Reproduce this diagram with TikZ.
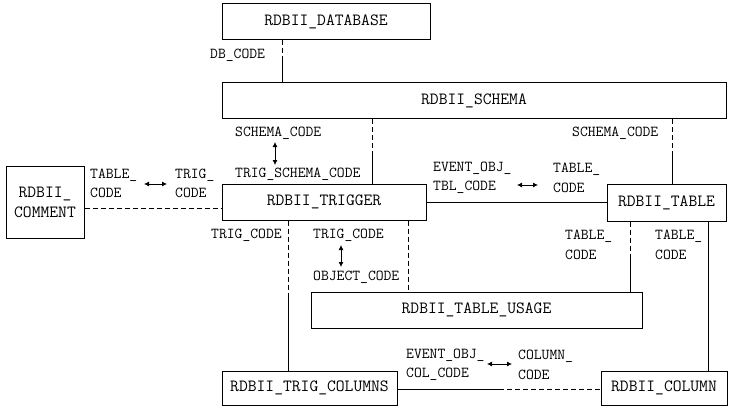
\documentclass[tikz,border=0pt]{standalone}
\usepackage{fontspec}
\usetikzlibrary{arrows.meta}
\newcommand{\tblfont}{\ttfamily\fontsize{17.1}{20}\selectfont}
\newcommand{\keyfont}{\ttfamily\fontsize{15.2}{19.5}\selectfont}
\tikzset{
  rdbtable/.style={draw, line width=1pt, inner sep=0pt, font=\tblfont, align=center},
  keylabel/.style={anchor=west, inner sep=0pt, align=left, font=\keyfont},
  link/.style={line width=1pt},
  optlink/.style={line width=1pt, dash pattern=on 5pt off 3pt},
  keyarrow/.style={line width=0.8pt, {Latex[length=5pt,width=5pt]}-{Latex[length=5pt,width=5pt]}},
}
\begin{document}
\begin{tikzpicture}
% one unit = one pixel of the drawing
\def\px{1pt}
\begin{scope}[x=\px, y=-\px, line cap=butt]
  \useasboundingbox (0,0) rectangle (730,409);
  % Tables
  \node[rdbtable, minimum width=208, minimum height=36] (database) at (326,22) {RDBII\_DATABASE};
  \node[rdbtable, minimum width=504, minimum height=36] (schema) at (474,100.5) {RDBII\_SCHEMA};
  \node[rdbtable, minimum width=78, minimum height=72] (comment) at (45,202) {RDBII\_\\COMMENT};
  \node[rdbtable, minimum width=204, minimum height=36] (trigger) at (324,202) {RDBII\_TRIGGER};
  \node[rdbtable, minimum width=119, minimum height=37] (table) at (666.5,202.5) {RDBII\_TABLE};
  \node[rdbtable, minimum width=331, minimum height=36] (usage) at (476.5,310) {RDBII\_TABLE\_USAGE};
  \node[rdbtable, minimum width=175, minimum height=34] (trigcols) at (309.5,388) {RDBII\_TRIG\_COLUMNS};
  \node[rdbtable, minimum width=126, minimum height=34] (column) at (664,388) {RDBII\_COLUMN};
  % Break points of the links
  \coordinate (dbbrk) at (282,61);
  \coordinate (trgbrk) at (372,151.5);
  \coordinate (tblbrk) at (672,151.5);
  \coordinate (cmtlink) at (84,208);
  \coordinate (ttlink) at (426,202);
  \coordinate (tcbrk) at (288,295);
  \coordinate (tulink) at (408,220);
  \coordinate (ubrk) at (630,256.5);
  \coordinate (clink) at (708,221);
  \coordinate (colbrk) at (499,389);
  % Links
  \draw[optlink] (dbbrk |- database.south) -- (dbbrk);
  \draw[link] (dbbrk) -- (dbbrk |- schema.north);
  \draw[optlink] (trgbrk |- schema.south) -- (trgbrk);
  \draw[link] (trgbrk) -- (trgbrk |- trigger.north);
  \draw[optlink] (tblbrk |- schema.south) -- (tblbrk);
  \draw[link] (tblbrk) -- (tblbrk |- table.north);
  \draw[optlink] (cmtlink -| comment.east) -- (cmtlink -| trigger.west);
  \draw[link] (ttlink -| trigger.east) -- (ttlink -| table.west);
  \draw[optlink] (tcbrk |- trigger.south) -- (tcbrk);
  \draw[link] (tcbrk) -- (tcbrk |- trigcols.north);
  \draw[optlink] (tulink |- trigger.south) -- (tulink |- usage.north);
  \draw[optlink] (ubrk |- table.south) -- (ubrk);
  \draw[link] (ubrk) -- (ubrk |- usage.north);
  \draw[link] (clink |- table.south) -- (clink |- column.north);
  \draw[link] (colbrk -| trigcols.east) -- (colbrk);
  \draw[optlink] (colbrk) -- (colbrk -| column.west);
  % Key names
  \node[keylabel] (dbcode) at (210,55) {DB\_CODE};
  \node[keylabel] (schemacode) at (235,133) {SCHEMA\_CODE};
  \node[keylabel] (trigschemacode) at (235,174) {TRIG\_SCHEMA\_CODE};
  \node[keylabel] (cmttablecode) at (90,183.5) {TABLE\_\\CODE};
  \node[keylabel] (cmttrigcode) at (175,183.5) {TRIG\_\\CODE};
  \node[keylabel] (evtblcode) at (433,178) {EVENT\_OBJ\_\\TBL\_CODE};
  \node[keylabel] (tbltablecode) at (553,178) {TABLE\_\\CODE};
  \node[keylabel] (tblschemacode) at (572,133) {SCHEMA\_CODE};
  \node[keylabel] (usetablecode) at (565,245) {TABLE\_\\CODE};
  \node[keylabel] (coltablecode) at (655,245) {TABLE\_\\CODE};
  \node[keylabel] (tctrigcode) at (211,235) {TRIG\_CODE};
  \node[keylabel] (usetrigcode) at (313,235) {TRIG\_CODE};
  \node[keylabel] (objectcode) at (313,277) {OBJECT\_CODE};
  \node[keylabel] (evcolcode) at (406,365) {EVENT\_OBJ\_\\COL\_CODE};
  \node[keylabel] (columncode) at (518,365) {COLUMN\_\\CODE};
  % Key arrows
  \coordinate (sca) at (275,142);
  \coordinate (scb) at (275,165);
  \coordinate (cma) at (144,184);
  \coordinate (cmb) at (167,184);
  \coordinate (tba) at (517,185);
  \coordinate (tbb) at (538,185);
  \coordinate (oba) at (341,245);
  \coordinate (obb) at (341,267);
  \coordinate (cla) at (487,364);
  \coordinate (clb) at (512,364);
  \draw[keyarrow] (sca) -- (scb);
  \draw[keyarrow] (cma) -- (cmb);
  \draw[keyarrow] (tba) -- (tbb);
  \draw[keyarrow] (oba) -- (obb);
  \draw[keyarrow] (cla) -- (clb);
\end{scope}
\end{tikzpicture}
\end{document}
